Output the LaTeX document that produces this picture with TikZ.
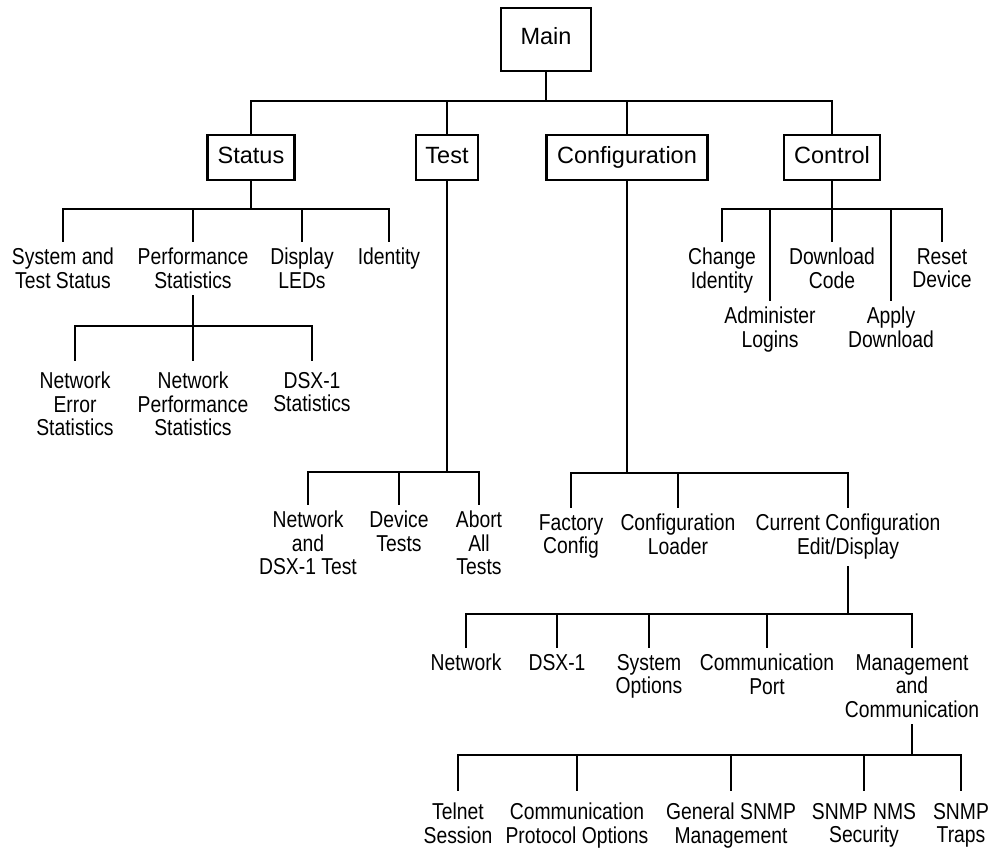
\documentclass[tikz,border=0pt]{standalone}
\usepackage{fontspec}
\setmainfont{Liberation Sans}
\newfontfamily\narrowfont{Liberation Sans}[FakeStretch=0.84]
\tikzset{
  box/.style={draw, line width=2.4pt, inner sep=0pt, text height=17pt, text depth=6pt, font=\fontsize{23.5}{26}\selectfont},
  lab/.style={align=center, inner xsep=0pt, inner ysep=7pt, anchor=north, font=\narrowfont\fontsize{23}{23.5}\selectfont},
  conn/.style={line width=1.2pt, line cap=rect},
}
\begin{document}
\begin{tikzpicture}[x=1pt,y=-1pt]
\useasboundingbox (0,0) rectangle (990,848);
% boxes
\node[box, minimum width=90pt, minimum height=63pt] (main) at (546,39.5) {Main};
\node[box, minimum width=87pt, minimum height=45pt] (status) at (251,157.5) {Status};
\node[box, minimum width=62pt, minimum height=45pt] (test) at (447,157.5) {Test};
\node[box, minimum width=161pt, minimum height=45pt] (config) at (627,157.5) {Configuration};
\node[box, minimum width=96pt, minimum height=45pt] (control) at (832,157.5) {Control};
% status children
\node[lab] (sys) at (63,241) {System and\\Test Status};
\node[lab] (perf) at (193,241) {Performance\\Statistics};
\node[lab] (disp) at (302,241) {Display\\LEDs};
\node[lab] (ident) at (389,241) {Identity};
% performance children
\node[lab, inner ysep=12pt] (neterr) at (75,360) {Network\\Error\\Statistics};
\node[lab, inner ysep=12pt] (netperf) at (193,360) {Network\\Performance\\Statistics};
\node[lab, inner ysep=12pt] (dsxstat) at (312,360) {DSX-1\\Statistics};
% test children
\node[lab] (netdsx) at (308,504) {Network\\and\\DSX-1 Test};
\node[lab] (devtests) at (399,504) {Device\\Tests};
\node[lab] (abort) at (479,504) {Abort\\All\\Tests};
% control children
\node[lab] (chgid) at (722,241) {Change\\Identity};
\node[lab] (dlcode) at (832,241) {Download\\Code};
\node[lab] (reset) at (942,241) {Reset\\Device};
\node[lab] (admin) at (770,300) {Administer\\Logins};
\node[lab] (apply) at (891,300) {Apply\\Download};
% configuration children
\node[lab] (factory) at (571,507) {Factory\\Config};
\node[lab] (loader) at (678,507) {Configuration\\Loader};
\node[lab] (current) at (848,507) {Current Configuration\\Edit/Display};
% current configuration children
\node[lab] (network) at (466,647) {Network};
\node[lab] (dsx) at (557,647) {DSX-1};
\node[lab] (sysopt) at (649,647) {System\\Options};
\node[lab] (commport) at (767,647) {Communication\\Port};
\node[lab] (mgmt) at (912,647) {Management\\and\\Communication};
% management children
\node[lab, inner ysep=13pt] (telnet) at (458,790) {Telnet\\Session};
\node[lab, inner ysep=13pt] (cpo) at (577,790) {Communication\\Protocol Options};
\node[lab, inner ysep=13pt] (gsnmp) at (731,790) {General SNMP\\Management};
\node[lab, inner ysep=13pt] (nms) at (864,790) {SNMP NMS\\Security};
\node[lab, inner ysep=13pt] (traps) at (961,790) {SNMP\\Traps};
% connectors
\foreach \p/\y/\f/\l/\kids in {
  main/101/status/control/{status,test,config,control},
  status/209/sys/ident/{sys,perf,disp,ident},
  perf/326/neterr/dsxstat/{neterr,netperf,dsxstat},
  control/209/chgid/reset/{chgid,admin,dlcode,apply,reset},
  test/472/netdsx/abort/{netdsx,devtests,abort},
  config/473/factory/current/{factory,loader,current},
  current/614/network/mgmt/{network,dsx,sysopt,commport,mgmt},
  mgmt/755/telnet/traps/{telnet,cpo,gsnmp,nms,traps}}{
  \coordinate (bar) at (0,\y);
  \draw[conn] (\p.south) -- (\p.south |- bar);
  \draw[conn] (\f.north |- bar) -- (\l.north |- bar);
  \foreach \k in \kids {\draw[conn] (\k.north) -- (\k.north |- bar);}
}
\end{tikzpicture}
\end{document}
